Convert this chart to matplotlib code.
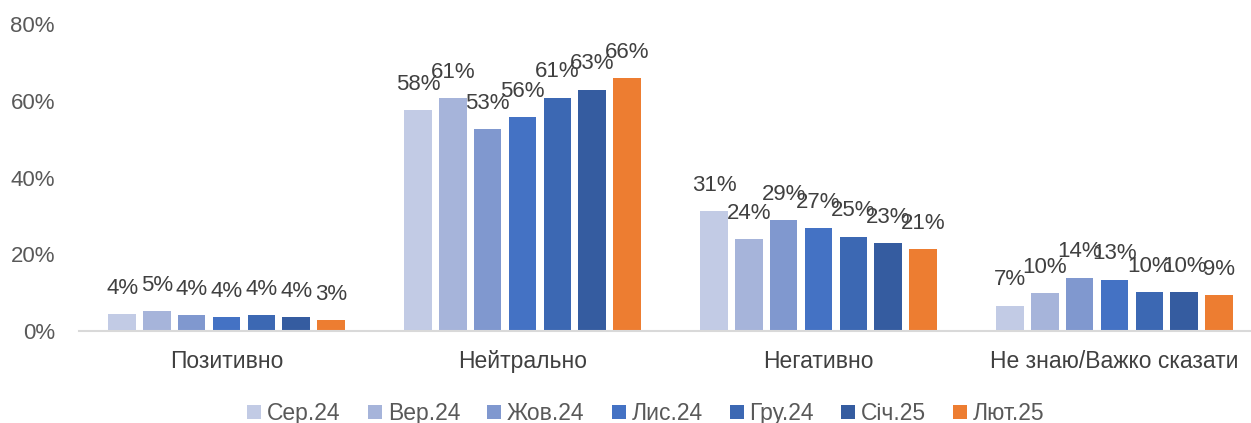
import matplotlib
matplotlib.use("Agg")
import matplotlib.pyplot as plt
import numpy as np

categories = ["Позитивно", "Нейтрально", "Негативно", "Не знаю/Важко сказати"]
series_names = ["Сер.24", "Вер.24", "Жов.24", "Лис.24", "Гру.24", "Січ.25", "Лют.25"]
values = {
    "Сер.24": [4.4, 57.6, 31.2, 6.6],
    "Вер.24": [5.2, 60.7, 23.9, 9.8],
    "Жов.24": [4.2, 52.6, 28.8, 13.9],
    "Лис.24": [3.6, 55.7, 26.8, 13.4],
    "Гру.24": [4.1, 60.8, 24.6, 10.2],
    "Січ.25": [3.6, 62.9, 22.9, 10.2],
    "Лют.25": [2.9, 65.9, 21.4, 9.3],
}
colors = ["#C2CBE5", "#A6B4DA", "#8098CF", "#4472C4", "#3C68B3", "#355CA0", "#ED7D31"]

plt.rcParams["font.family"] = ["Liberation Sans", "DejaVu Sans"]

W, H = 1251, 423
fig = plt.figure(figsize=(W / 100, H / 100), dpi=100)
left_px, right_px, top_px, base_px = 78.5, 1251, 24, 331
ax = fig.add_axes([left_px / W, (H - base_px) / H,
                   (right_px - left_px) / W, (base_px - top_px) / H])

group_px = 296.0
x = np.arange(len(categories))
pitch = 0.1176
width = 0.093
n = len(series_names)
for i, name in enumerate(series_names):
    pos = x + (i - (n - 1) / 2) * pitch
    bars = ax.bar(pos, values[name], width=width, color=colors[i], label=name, zorder=2)
    for b, v in zip(bars, values[name]):
        ax.annotate(f"{round(v):.0f}%", (b.get_x() + b.get_width() / 2, v),
                    xytext=(0, 18.5), textcoords="offset points",
                    ha="center", va="center", fontsize=16, color="#404040")

ax.set_xlim(-0.5, -0.5 + (right_px - left_px) / group_px)
ax.set_ylim(0, 80)
ax.set_yticks([0, 20, 40, 60, 80])
ax.set_yticklabels([f"{t}%" for t in [0, 20, 40, 60, 80]])
ax.set_xticks(x)
ax.set_xticklabels(categories)
ax.tick_params(axis="y", length=0, pad=17, labelsize=16, labelcolor="#595959")
ax.tick_params(axis="x", length=0, pad=14, labelsize=16.5, labelcolor="#404040")
for s in ["top", "right", "left"]:
    ax.spines[s].set_visible(False)
ax.spines["bottom"].set_color("#D9D9D9")
ax.spines["bottom"].set_linewidth(1.5)

leg = fig.legend(loc="center", bbox_to_anchor=(646 / W, 0.022), ncol=7, frameon=False,
                 handlelength=0.61, handleheight=0.61, handletextpad=0.26, columnspacing=1.18,
                 prop={"size": 16.5})
for t in leg.get_texts():
    t.set_color("#595959")

fig.savefig("out.png", dpi=100)
